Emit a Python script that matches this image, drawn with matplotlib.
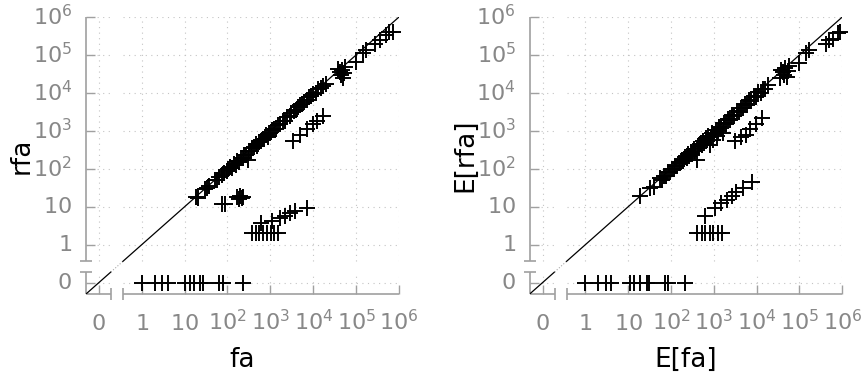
import numpy as np
import matplotlib
matplotlib.use("Agg")
import matplotlib.pyplot as plt

plt.rcParams['font.family'] = 'DejaVu Sans'
plt.rcParams['mathtext.default'] = 'regular'

# ---- data: (fa, rfa) left panel, (E[fa], E[rfa]) right panel ----
left_fa = [1, 2, 3, 4, 10, 13, 17, 23, 27, 62, 80, 230,
           73, 88, 165, 185, 200, 215, 235,
           380, 460, 550, 680, 820, 1030, 1200, 1500,
           610, 1100, 1650, 2200, 2900, 3700, 7000,
           3300, 5000, 7000, 10000, 12500, 16500,
           18, 21, 30, 34, 38, 52, 58, 64, 75, 85, 95, 105, 115, 125, 140, 155,
           170, 190, 205, 225, 245, 270, 300, 320, 345, 380, 420, 460, 500, 550,
           600, 660, 720, 800, 860, 930, 1000, 1100, 1200, 1320, 1500, 1700,
           1950, 2200, 2500, 2800, 3100, 3500, 4000, 4500, 5000, 5600, 6200,
           7000, 8000, 9000, 10000, 11500, 13000, 15000, 17000, 20000, 38000,
           42000, 45000, 48000, 50000, 53000, 56000, 100000, 145000, 170000,
           270000, 360000, 500000, 600000, 720000]
left_rfa = [0, 0, 0, 0, 0, 0, 0, 0, 0, 0, 0, 0,
            12, 12, 18, 16, 19, 17, 18,
            2, 2, 2, 2, 2, 2, 2, 2,
            3.7, 4.3, 5, 5.8, 6.8, 7.5, 9,
            550, 780, 1100, 1500, 1800, 2400,
            18, 17, 30, 32, 36, 52, 50, 62, 70, 78, 90, 100, 110, 105, 135, 125,
            165, 150, 195, 190, 235, 225, 170, 300, 290, 360, 370, 440, 410, 520,
            530, 620, 600, 760, 700, 880, 860, 1040, 1120, 1150, 1420, 1500,
            1850, 1850, 2380, 2450, 2950, 3300, 3500, 4250, 4700, 5000, 5900,
            6400, 7600, 8100, 9500, 10000, 12300, 13500, 15500, 17000, 42000,
            36000, 29000, 40000, 24000, 33000, 48000, 66000, 110000, 135000,
            200000, 250000, 330000, 400000, 410000]

right_fa = [1, 2, 3, 4, 11, 14, 19, 27, 31, 73, 87, 213,
            400, 520, 620, 820, 980, 1270, 1520,
            620, 1050, 1500, 2000, 2600, 3300, 4800, 7700,
            3100, 4300, 5500, 7000, 9500, 13000,
            19, 32, 39, 55, 60, 68, 75, 85, 95, 105, 115, 125, 140, 150, 165, 180,
            195, 210, 230, 250, 270, 290, 310, 340, 370, 400, 420, 450, 480, 520,
            560, 600, 650, 700, 750, 820, 850, 900, 960, 1000, 1100, 1170, 1250,
            1350, 1500, 1660, 1700, 1900, 2100, 2400, 2700, 3000, 3400, 3800,
            4300, 4800, 5400, 6000, 6800, 7500, 8500, 9500, 11000, 12500, 14000,
            16000, 18000, 35000, 38000, 41000, 44000, 47000, 50000, 53000, 56000,
            100000, 145000, 170000, 420000, 500000, 600000, 790000, 900000]
right_rfa = [0, 0, 0, 0, 0, 0, 0, 0, 0, 0, 0, 0,
             2, 2, 2, 2, 2, 2, 2,
             5.8, 9.5, 12.5, 15, 19, 25, 31, 46,
             530, 700, 800, 1150, 1500, 2200,
             18.6, 31, 34, 57, 52, 66, 63, 82, 80, 100, 96, 120, 118, 145, 140, 175,
             160, 205, 190, 240, 220, 280, 245, 330, 300, 170, 400, 350, 460, 420,
             540, 480, 630, 560, 720, 430, 700, 870, 580, 820, 1060, 710, 1000,
             1300, 1200, 870, 1620, 1550, 2000, 1950, 2600, 2500, 3250, 3100,
             4100, 3900, 5200, 4800, 6500, 6000, 8100, 7800, 10500, 10000, 13000,
             13000, 16500, 24000, 40000, 36000, 30000, 45000, 27000, 38000, 50000,
             60000, 110000, 135000, 200000, 250000, 270000, 370000, 410000]

tick_vals = [0, 1, 10, 1e2, 1e3, 1e4, 1e5, 1e6]
tick_labels = ['$0$', '$1$', '$10$', '$10^{2}$', '$10^{3}$', '$10^{4}$',
               '$10^{5}$', '$10^{6}$']

# broken axis: 0 sits one decade below 1, gap between
BRK_LO = -0.72
BRK_HI = -0.44
V_LO = BRK_LO + 1.0
V_HI = 10 ** BRK_HI
LIM = (-0.3, 1e6)

axis_c = '#a0a0a0'
text_c = '#888888'
grid_c = '#c4c4c4'


def fwd(v):
    v = np.asarray(v, dtype=float)
    lin = v - 1.0
    lg = np.log10(np.clip(v, 1e-9, None))
    mid = BRK_LO + (v - V_LO) / (V_HI - V_LO) * (BRK_HI - BRK_LO)
    return np.where(v <= V_LO, lin, np.where(v >= V_HI, lg, mid))


def inv(u):
    u = np.asarray(u, dtype=float)
    lin = u + 1.0
    lg = 10 ** np.clip(u, -10, 20)
    mid = V_LO + (u - BRK_LO) / (BRK_HI - BRK_LO) * (V_HI - V_LO)
    return np.where(u <= BRK_LO, lin, np.where(u >= BRK_HI, lg, mid))


def panel(ax, xs, ys, xlab, ylab):
    ax.set_xscale('function', functions=(fwd, inv))
    ax.set_yscale('function', functions=(fwd, inv))
    ax.set_xlim(LIM)
    ax.set_ylim(LIM)
    for s in ax.spines.values():
        s.set_visible(False)

    parts = [(LIM[0], V_LO), (V_HI, LIM[1])]
    # dotted grid, interrupted at the break
    for t in tick_vals:
        for a, b in parts:
            ax.plot([t, t], [a, b], color=grid_c, lw=0.8, ls=(0, (1, 4)), zorder=0)
            ax.plot([a, b], [t, t], color=grid_c, lw=0.8, ls=(0, (1, 4)), zorder=0)

    # axis lines with break marks
    for a, b in parts:
        ax.plot([LIM[0], LIM[0]], [a, b], color=axis_c, lw=1.2, clip_on=False,
                solid_capstyle='butt')
        ax.plot([a, b], [LIM[0], LIM[0]], color=axis_c, lw=1.2, clip_on=False,
                solid_capstyle='butt')
    ax.plot([LIM[0], LIM[0]], [V_LO, V_HI], ls='none', marker='_', ms=9,
            mew=1.2, color=axis_c, clip_on=False)
    ax.plot([V_LO, V_HI], [LIM[0], LIM[0]], ls='none', marker='|', ms=9,
            mew=1.2, color=axis_c, clip_on=False)

    # y = x reference
    ax.plot([LIM[0], V_LO], [LIM[0], V_LO], color='k', lw=0.9)
    ax.plot([V_LO, V_HI], [V_LO, V_HI], color='#aaaaaa', lw=0.8, ls=':')
    ax.plot([V_HI, LIM[1]], [V_HI, LIM[1]], color='k', lw=0.9)

    ax.plot(xs, ys, ls='none', marker='+', ms=11.5, mew=1.4, color='k',
            clip_on=False, zorder=3)

    ax.set_xticks(tick_vals)
    ax.set_xticklabels(tick_labels)
    ax.set_yticks(tick_vals)
    ax.set_yticklabels(tick_labels)
    ax.minorticks_off()
    ax.tick_params(direction='in', length=6.5, width=1, color=axis_c,
                   labelcolor=text_c, labelsize=16, top=False, right=False)
    ax.tick_params(axis='x', pad=26)
    ax.tick_params(axis='y', pad=10)
    for lab in ax.get_xticklabels():
        lab.set_va('baseline')
    for lab in ax.get_yticklabels():
        lab.set_va('center')

    ax.set_xlabel(xlab, fontsize=19, va='center')
    ax.set_ylabel(ylab, fontsize=19, va='center')
    ax.xaxis.set_label_coords(0.5, -0.238)
    ax.yaxis.set_label_coords(-0.205, 0.5)


fig = plt.figure(figsize=(8.66, 3.76), dpi=100)
ax1 = fig.add_axes([86 / 866, 82 / 376, 313 / 866, 277 / 376])
ax2 = fig.add_axes([529.7 / 866, 82 / 376, 312.6 / 866, 277 / 376])

panel(ax1, left_fa, left_rfa, 'fa', 'rfa')
panel(ax2, right_fa, right_rfa, 'E[fa]', 'E[rfa]')

fig.savefig('out.png', dpi=100)
